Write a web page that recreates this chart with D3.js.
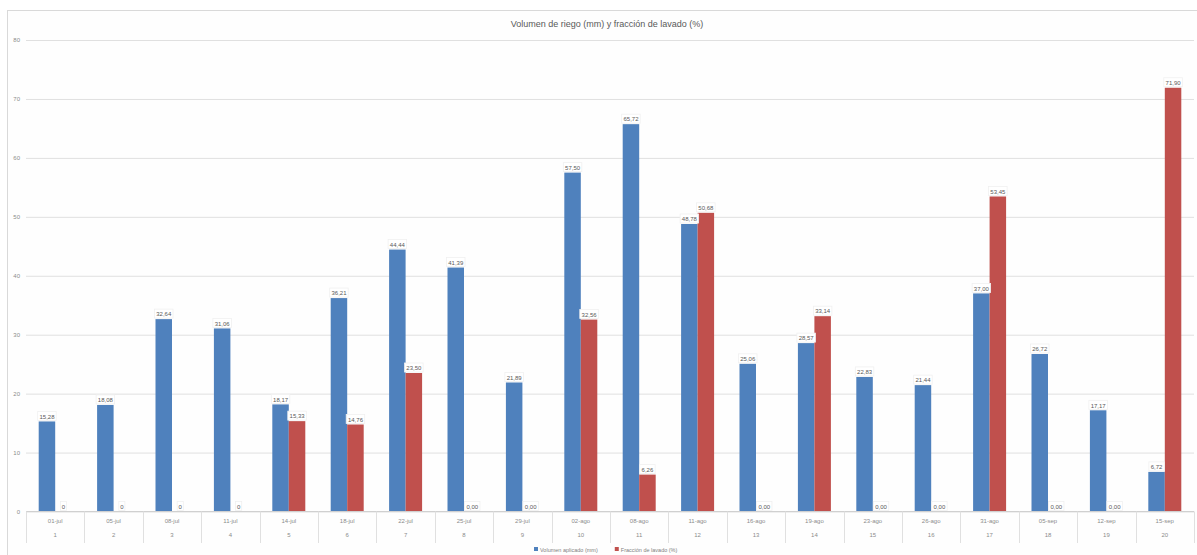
<!DOCTYPE html>
<html lang="es">
<head>
<meta charset="utf-8">
<script src="https://cdn.jsdelivr.net/npm/d3@7"></script>
<style>
  html, body { margin: 0; padding: 0; background: #ffffff; }
  svg { display: block; font-family: "Liberation Sans", "DejaVu Sans", sans-serif; }
</style>
</head>
<body>
<svg id="chart" width="1197" height="555"></svg>
<script>
// Riegos del ciclo (número de riego y fecha)
const riegos = [1, 2, 3, 4, 5, 6, 7, 8, 9, 10, 11, 12, 13, 14, 15, 16, 17, 18, 19, 20];
const fechas = ["01-jul", "05-jul", "08-jul", "11-jul", "14-jul", "18-jul", "22-jul", "25-jul", "29-jul", "02-ago",
                "08-ago", "11-ago", "16-ago", "19-ago", "23-ago", "26-ago", "31-ago", "05-sep", "12-sep", "15-sep"];

// Volumen aplicado (mm)
const volumen = [15.28, 18.08, 32.64, 31.06, 18.17, 36.21, 44.44, 41.39, 21.89, 57.50,
                 65.72, 48.78, 25.06, 28.57, 22.83, 21.44, 37.00, 26.72, 17.17, 6.72];

// Fracción de lavado (%)
const fraccion = [0, 0, 0, 0, 15.33, 14.76, 23.50, 0, 0, 32.56,
                  6.26, 50.68, 0, 33.14, 0, 0, 53.45, 0, 0, 71.90];

// Los cuatro primeros riegos no tienen fracción calculada: se rotulan como "0"
const riegosSinCalculo = [1, 2, 3, 4];

const yTicks = [0, 10, 20, 30, 40, 50, 60, 70, 80];

const series = [
  { key: "vol", nombre: "Volumen aplicado (mm)", valores: volumen, color: "#4F81BD" },
  { key: "frac", nombre: "Fracción de lavado (%)", valores: fraccion, color: "#C0504D" }
];

const svg = d3.select("#chart");
const W = 1197, H = 555;
const plot = { left: 26, right: 1194, top: 40, bottom: 511.5 };

const es = d3.formatLocale({ decimal: ",", thousands: ".", grouping: [3], currency: ["", "€"] });
const fmt = es.format(".2f");

// Marco del gráfico
svg.append("rect")
  .attr("x", 7.5).attr("y", 10.5)
  .attr("width", W + 10).attr("height", H + 10)
  .attr("fill", "#fefefe")
  .attr("stroke", "#d9d9d9").attr("stroke-width", 1);

// Título
svg.append("text")
  .attr("x", 607).attr("y", 27)
  .attr("text-anchor", "middle")
  .attr("font-size", 9)
  .attr("fill", "#595959")
  .text("Volumen de riego (mm) y fracción de lavado (%)");

const y = d3.scaleLinear().domain([0, 80]).range([plot.bottom, plot.top]);
const xCat = d3.scaleBand().domain(riegos).range([plot.left, plot.right]).padding(0);
const xSer = d3.scaleBand().domain(series.map(s => s.key))
  .range([0, xCat.bandwidth()]).paddingInner(0).paddingOuter(0.77);

// Líneas de cuadrícula y etiquetas del eje Y
const yAxis = d3.axisLeft(y).tickValues(yTicks).tickSize(-(plot.right - plot.left)).tickPadding(6);
const gy = svg.append("g").attr("transform", `translate(${plot.left},0)`).call(yAxis);
gy.select(".domain").remove();
gy.selectAll(".tick line").attr("stroke", "#e0e0e0").attr("stroke-width", 1);
gy.selectAll(".tick text").attr("fill", "#8c8c8c").attr("font-size", 6)
  .attr("font-family", "Liberation Sans, sans-serif");

// Barras
series.forEach(s => {
  svg.append("g").selectAll("rect")
    .data(riegos.map((r, i) => ({ r, v: s.valores[i] })))
    .join("rect")
    .attr("x", d => xCat(d.r) + xSer(s.key))
    .attr("y", d => y(d.v))
    .attr("width", xSer.bandwidth())
    .attr("height", d => y(0) - y(d.v))
    .attr("fill", s.color);
});

// Eje X: línea base y separadores de categoría
svg.append("line")
  .attr("x1", plot.left).attr("x2", plot.right)
  .attr("y1", plot.bottom).attr("y2", plot.bottom)
  .attr("stroke", "#d0d0d0");
const bordes = riegos.map(r => xCat(r)).concat([xCat(riegos[riegos.length - 1]) + xCat.bandwidth()]);
svg.append("g").selectAll("line")
  .data(bordes)
  .join("line")
  .attr("x1", d => Math.round(d) + 0.5).attr("x2", d => Math.round(d) + 0.5)
  .attr("y1", plot.bottom).attr("y2", 543)
  .attr("stroke", "#e0e0e0");

// Rótulos del eje X: fecha y número de riego
const gx = svg.append("g");
gx.selectAll("text.fecha")
  .data(riegos)
  .join("text")
  .attr("class", "fecha")
  .attr("x", d => xCat(d) + xCat.bandwidth() / 2)
  .attr("y", 523)
  .attr("text-anchor", "middle")
  .attr("font-size", 6)
  .attr("fill", "#8c8c8c")
  .text((d, i) => fechas[i]);
gx.selectAll("text.num")
  .data(riegos)
  .join("text")
  .attr("class", "num")
  .attr("x", d => xCat(d) + xCat.bandwidth() / 2)
  .attr("y", 537)
  .attr("text-anchor", "middle")
  .attr("font-size", 6)
  .attr("fill", "#8c8c8c")
  .text(d => d);

// Etiquetas de datos sobre cada barra
series.forEach(s => {
  const g = svg.append("g");
  const items = riegos.map((r, i) => ({
    r, v: s.valores[i],
    txt: (s.key === "frac" && riegosSinCalculo.includes(r)) ? "0" : fmt(s.valores[i])
  }));
  const grp = g.selectAll("g").data(items).join("g")
    .attr("transform", d => `translate(${xCat(d.r) + xSer(s.key) + xSer.bandwidth() / 2},${y(d.v) - 5})`);
  grp.append("rect")
    .attr("x", d => -(d.txt.length * 3.1 + 3) / 2)
    .attr("y", -5)
    .attr("width", d => d.txt.length * 3.1 + 3)
    .attr("height", 9)
    .attr("fill", "#ffffff")
    .attr("stroke", "#f0f0f0")
    .attr("stroke-width", 0.8);
  grp.append("text")
    .attr("text-anchor", "middle")
    .attr("y", 2.2)
    .attr("font-size", 6)
    .attr("fill", "#595959")
    .text(d => d.txt);
});

// Leyenda
const leyenda = svg.append("g").attr("transform", "translate(534,550)");
let lx = 0;
series.forEach(s => {
  const it = leyenda.append("g").attr("transform", `translate(${lx},0)`);
  it.append("rect").attr("x", 0).attr("y", -3).attr("width", 4).attr("height", 4).attr("fill", s.color);
  const t = it.append("text").attr("x", 6).attr("y", 1.5)
    .attr("font-size", 5.5).attr("fill", "#7f7f7f").text(s.nombre);
  lx += 6 + t.node().getComputedTextLength() + 17;
});
</script>
</body>
</html>
